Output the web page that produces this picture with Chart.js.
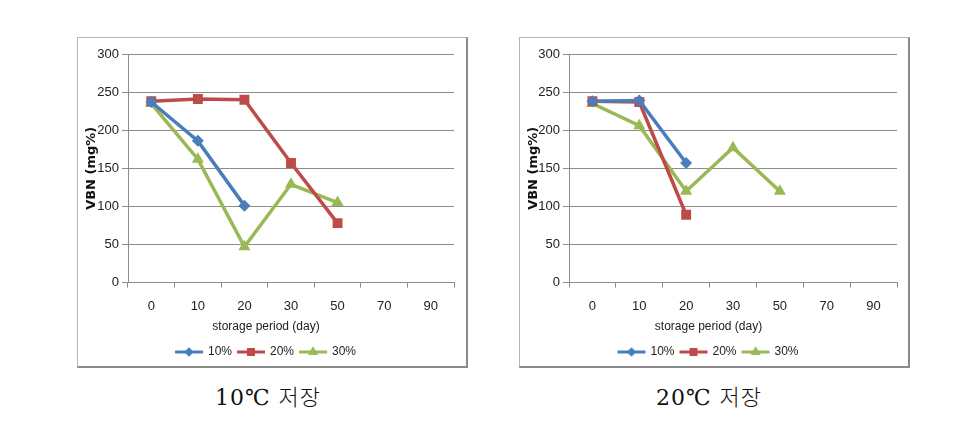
<!DOCTYPE html>
<html>
<head>
<meta charset="utf-8">
<script src="https://cdn.jsdelivr.net/npm/chart.js@4.4.1/dist/chart.umd.min.js"></script>
<style>
  html, body { margin: 0; padding: 0; background: #fff; }
  body { width: 963px; height: 425px; position: relative; overflow: hidden; }
  .box {
    position: absolute; top: 37px; width: 388px; height: 328px;
    border-top: 1px solid #b5b5b5; border-left: 1px solid #b5b5b5;
    border-right: 2px solid #8a8a8a; border-bottom: 2px solid #8a8a8a;
  }
  canvas { position: absolute; top: 0; left: 0; }
  .caption {
    position: absolute; top: 379px; width: 200px; text-align: center;
    font-family: "DejaVu Serif", "Liberation Serif", "Noto Sans CJK KR", serif;
    font-size: 22px; color: #111; letter-spacing: 1px;
  }
  .caption .ko { font-family: "Noto Sans CJK KR", sans-serif; font-weight: 300; }
</style>
</head>
<body>
<div class="box" style="left:77px"><canvas id="chart-10" width="390" height="330"></canvas></div>
<div class="box" style="left:519px"><canvas id="chart-20" width="390" height="330"></canvas></div>
<div class="caption" style="left:168px">10℃ <span class="ko">저장</span></div>
<div class="caption" style="left:609px">20℃ <span class="ko">저장</span></div>

<script>
// Categories (storage days) and y ticks
const days = ['0', '10', '20', '30', '50', '70', '90'];
const yMin = 0;
const yMax = 300;
const yStep = 50;

// 10 ℃ storage
const cold10 = [237, 186, 101, null, null, null, null];
const cold20 = [238, 241, 240, 157, 78, null, null];
const cold30 = [235, 162, 47, 129, 105, null, null];

// 20 ℃ storage
const warm10 = [238, 239, 157, null, null, null, null];
const warm20 = [238, 237, 89, null, null, null, null];
const warm30 = [235, 206, 120, 177, 120, null, null];

const seriesNames = ['10%', '20%', '30%'];

// Excel 2007 palette
const COLORS = ['#4a7ebb', '#be4b48', '#98b954'];
const MARKERS = ['rectRot', 'rect', 'triangle'];
const RADII = [6, 7, 7];

const FONT_FAMILY = '"Liberation Sans", Arial, sans-serif';
const TICK_FONT = { family: FONT_FAMILY, size: 13 };
const GRID = '#8c8c8c';

/**
 * Small legend icon: a line with the marker in the middle
 */
function legendIcon(idx) {
  const c = document.createElement('canvas');
  c.width = 30;
  c.height = 12;
  const ctx = c.getContext('2d');
  ctx.strokeStyle = COLORS[idx];
  ctx.lineWidth = 3;
  ctx.beginPath();
  ctx.moveTo(1, 6);
  ctx.lineTo(29, 6);
  ctx.stroke();
  ctx.fillStyle = COLORS[idx];
  Chart.helpers.drawPoint(ctx, { pointStyle: MARKERS[idx], radius: RADII[idx] - 1.5, borderWidth: 0 }, 15, 6);
  ctx.fill();
  return c;
}

function makeDatasets(values) {
  return values.map((data, idx) => ({
    label: seriesNames[idx],
    data,
    borderColor: COLORS[idx],
    backgroundColor: COLORS[idx],
    borderWidth: 3.5,
    pointStyle: MARKERS[idx],
    pointRadius: RADII[idx],
    pointBorderWidth: 0,
    tension: 0,
    spanGaps: false,
  }));
}

function makeChart(id, values, leftWidth, rightPad) {
  const ctx = document.getElementById(id).getContext('2d');
  return new Chart(ctx, {
    type: 'line',
    data: { labels: days, datasets: makeDatasets(values) },
    options: {
      responsive: false,
      animation: false,
      layout: { padding: { top: 16, right: rightPad, bottom: 0, left: 0 } },
      plugins: {
        tooltip: { enabled: false },
        title: {
          display: true,
          text: 'storage period (day)',
          position: 'bottom',
          weight: 500,
          color: '#222',
          font: { family: FONT_FAMILY, size: 12, weight: 'normal' },
          padding: { top: 0, bottom: 6 },
        },
        legend: {
          position: 'bottom',
          labels: {
            color: '#222',
            font: { family: FONT_FAMILY, size: 12 },
            usePointStyle: true,
            pointStyleWidth: 26,
            padding: 6,
            generateLabels: chart => chart.data.datasets.map((ds, i) => ({
              text: ds.label,
              pointStyle: legendIcon(i),
              fontColor: '#222',
              datasetIndex: i,
              lineWidth: 0,
            })),
          },
        },
      },
      scales: {
        x: {
          offset: true,
          grid: { offset: true, drawOnChartArea: false, tickLength: 5, color: GRID },
          border: { color: GRID },
          ticks: { color: '#222', font: TICK_FONT, padding: 11, maxRotation: 0 },
          afterFit: s => { s.height = 37; },
        },
        y: {
          min: yMin,
          max: yMax,
          ticks: { stepSize: yStep, color: '#222', font: TICK_FONT, padding: 3 },
          grid: { color: GRID, tickLength: 6 },
          border: { color: GRID },
          title: {
            display: true,
            text: 'VBN (mg%)',
            color: '#111',
            font: { family: '"DejaVu Sans", sans-serif', size: 13, weight: 'bold' },
            padding: { top: 6, bottom: 0 },
          },
          afterFit: s => { s.width = leftWidth; },
        },
      },
    },
  });
}

makeChart('chart-10', [cold10, cold20, cold30], 50, 14);
makeChart('chart-20', [warm10, warm20, warm30], 49, 13);
</script>
</body>
</html>
